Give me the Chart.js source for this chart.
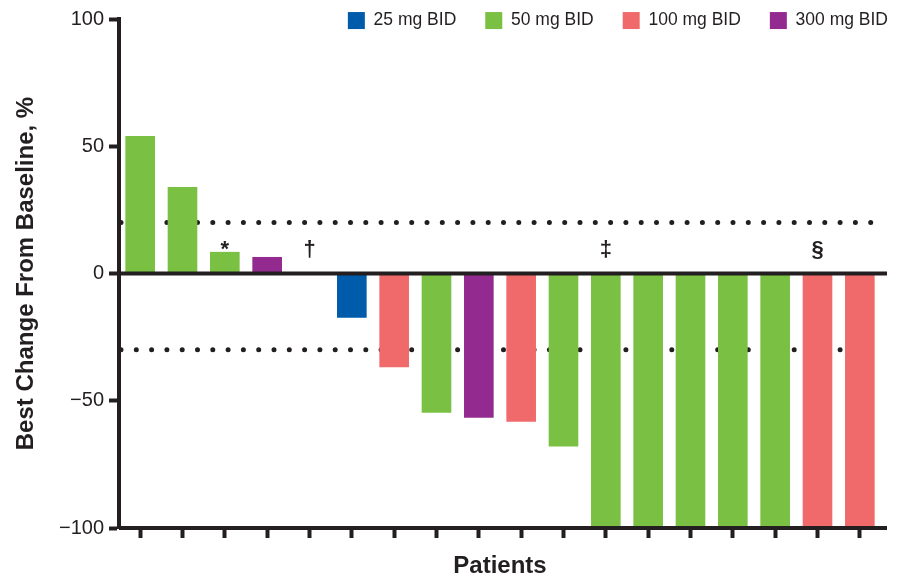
<!DOCTYPE html>
<html>
<head>
<meta charset="utf-8">
<script src="https://cdn.jsdelivr.net/npm/chart.js@4"></script>
<style>
  html, body { margin: 0; padding: 0; background: #fff; }
  #contenedor { width: 907px; height: 579px; }
</style>
</head>
<body>
<div id="contenedor"><canvas id="grafico"></canvas></div>
<script>
// Datos (mejor cambio desde la línea base, %)
const pacientes = ['1', '2', '3', '4', '5', '6', '7', '8', '9', '10', '11', '12', '13', '14', '15', '16', '17', '18'];
const cambioMejor = [54, 34, 8.5, 6.5, null, -17.4, -36.8, -54.7, -56.7, -58.3, -68, -100, -100, -100, -100, -100, -100, -100];
const dosisPaciente = ['50 mg BID', '50 mg BID', '50 mg BID', '300 mg BID', '', '25 mg BID', '100 mg BID', '50 mg BID', '300 mg BID',
    '100 mg BID', '50 mg BID', '50 mg BID', '50 mg BID', '50 mg BID', '50 mg BID', '50 mg BID', '100 mg BID', '100 mg BID'];
const notas = ['', '', '*', '', '†', '', '', '', '', '', '', '‡', '', '', '', '', '§', ''];
const grupos = ['25 mg BID', '50 mg BID', '100 mg BID', '300 mg BID'];
const coloresGrupo = ['#005BAA', '#7AC143', '#F16A6B', '#922A8F'];
const umbrales = [20, -30]; // líneas punteadas
const ticksY = [100, 50, 0, -50, -100];

const negro = '#231f20';

// Un dataset por grupo de dosis (null donde el paciente es de otro grupo)
const datasets = grupos.map((grupo, g) => ({
    label: grupo,
    data: cambioMejor.map((v, i) => (dosisPaciente[i] === grupo ? v : null)),
    backgroundColor: coloresGrupo[g],
    borderWidth: 0,
    barPercentage: 0.7,
    categoryPercentage: 1.0,
}));

// Plugin para leyenda flotante, líneas de referencia, eje cero y notas
const lineasExtra = {
    id: 'lineasExtra',
    beforeLayout(chart) {
        // La leyenda no debe ocupar espacio arriba del área del gráfico
        const lg = chart.legend;
        if (lg && !lg._parcheado) {
            const fitOriginal = lg.fit.bind(lg);
            lg.fit = function () { fitOriginal(); this.height = 0; };
            lg._parcheado = true;
        }
    },
    afterLayout(chart) {
        // Mover la leyenda a la esquina superior derecha
        const lg = chart.legend;
        const dx = 917 - lg.right;
        lg.left += dx; lg.right += dx;
        lg.top = -17.2;
        lg.bottom = 45;
        lg.height = lg.bottom - lg.top;
    },
    beforeDatasetsDraw(chart) {
        const { ctx, chartArea: area, scales: { y } } = chart;
        ctx.save();
        ctx.strokeStyle = negro;
        ctx.lineWidth = 5;
        ctx.lineCap = 'round';
        ctx.setLineDash([0, 15.3]);
        umbrales.forEach(v => {
            const yy = y.getPixelForValue(v);
            ctx.beginPath();
            ctx.moveTo(area.left + 2, yy);
            ctx.lineTo(area.right + 4, yy);
            ctx.stroke();
        });
        ctx.restore();
    },
    afterDatasetsDraw(chart) {
        const { ctx, chartArea: area, scales: { x, y } } = chart;
        ctx.save();
        ctx.strokeStyle = negro;
        ctx.lineWidth = 4;
        [0, -100].forEach(v => {
            const yy = y.getPixelForValue(v);
            ctx.beginPath();
            ctx.moveTo(area.left, yy);
            ctx.lineTo(area.right + 6, yy);
            ctx.stroke();
        });
        // Notas (*, †, ‡, §)
        ctx.fillStyle = negro;
        ctx.font = 'bold 22px "Liberation Sans", Arial, sans-serif';
        ctx.textAlign = 'center';
        ctx.textBaseline = 'alphabetic';
        notas.forEach((n, i) => {
            if (!n) return;
            ctx.fillText(n, x.getPixelForValue(i), y.getPixelForValue(7));
        });
        ctx.restore();
    }
};

const ctx = document.getElementById('grafico').getContext('2d');
new Chart(ctx, {
    type: 'bar',
    data: { labels: pacientes, datasets: datasets },
    options: {
        responsive: true,
        maintainAspectRatio: false,
        devicePixelRatio: 1,
        animation: false,
        layout: { padding: { top: 19, right: 26, bottom: 0, left: 0 } },
        plugins: {
            legend: {
                position: 'top',
                align: 'end',
                labels: {
                    boxWidth: 17,
                    boxHeight: 17,
                    padding: 29,
                    color: negro,
                    font: { family: '"Liberation Sans", Arial, sans-serif', size: 17.5 },
                },
            },
            tooltip: { enabled: false },
        },
        scales: {
            x: {
                stacked: true,
                grid: {
                    display: true,
                    drawOnChartArea: false,
                    drawTicks: true,
                    offset: false,
                    tickLength: 10,
                    tickWidth: 4,
                    tickColor: negro,
                },
                border: { display: false },
                ticks: { display: false, autoSkip: false },
                title: {
                    display: true,
                    text: 'Patients',
                    color: negro,
                    font: { family: '"Liberation Sans", Arial, sans-serif', size: 24, weight: 'bold' },
                    padding: { top: 0, bottom: -2 },
                },
                afterFit: s => { s.height = 51; },
            },
            y: {
                stacked: true,
                min: -100,
                max: 100,
                afterBuildTicks: s => { s.ticks = ticksY.map(v => ({ value: v })); },
                grid: {
                    display: true,
                    drawOnChartArea: false,
                    drawTicks: true,
                    tickLength: 10,
                    tickWidth: 4,
                    tickColor: negro,
                },
                border: { display: true, width: 4, color: negro },
                ticks: {
                    color: negro,
                    padding: 5,
                    font: { family: '"Liberation Sans", Arial, sans-serif', size: 20 },
                    callback: v => String(v).replace('-', '\u2212'),
                },
                title: {
                    display: true,
                    text: 'Best Change From Baseline, %',
                    color: negro,
                    font: { family: '"Liberation Sans", Arial, sans-serif', size: 24, weight: 'bold' },
                    padding: { top: 12, bottom: 0 },
                },
                afterFit: s => { s.width = 119; },
            },
        },
    },
    plugins: [lineasExtra],
});
</script>
</body>
</html>
